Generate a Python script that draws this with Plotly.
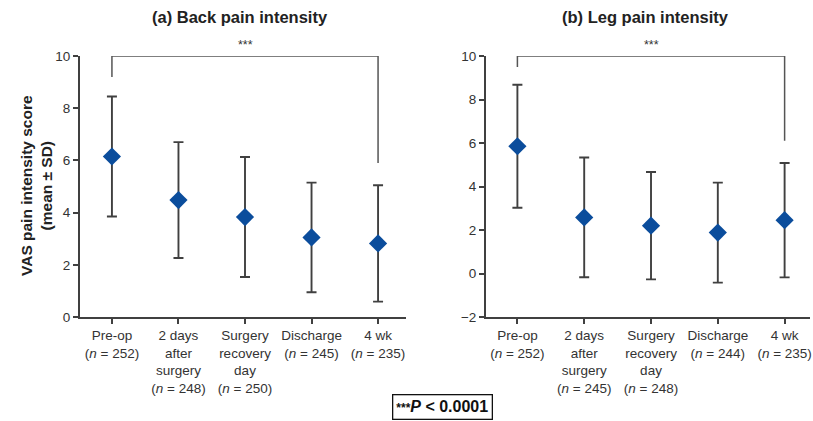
import plotly.graph_objects as go

categories_back = ["Pre-op<br>(<i>n</i> = 252)", "2 days<br>after<br>surgery<br>(<i>n</i> = 248)",
                   "Surgery<br>recovery<br>day<br>(<i>n</i> = 250)", "Discharge<br>(<i>n</i> = 245)",
                   "4 wk<br>(<i>n</i> = 235)"]
categories_leg = ["Pre-op<br>(<i>n</i> = 252)", "2 days<br>after<br>surgery<br>(<i>n</i> = 245)",
                  "Surgery<br>recovery<br>day<br>(<i>n</i> = 248)", "Discharge<br>(<i>n</i> = 244)",
                  "4 wk<br>(<i>n</i> = 235)"]
back_mean = [6.15, 4.48, 3.83, 3.05, 2.82]
back_sd = [2.30, 2.22, 2.30, 2.10, 2.23]
leg_mean = [5.85, 2.58, 2.20, 1.88, 2.45]
leg_sd = [2.83, 2.75, 2.47, 2.30, 2.63]

W, H = 813, 421
ML, MR, MT, MB = 80, 3, 56, 104
PW = W - ML - MR
PH = H - MT - MB

axis_color = "#404040"
font_fam = "Liberation Sans, Arial, sans-serif"
marker_color = "#0b4d9c"

fig = go.Figure()
idx = list(range(5))
fig.add_trace(go.Scatter(
    x=idx, y=back_mean, mode="markers", xaxis="x", yaxis="y",
    marker=dict(symbol="diamond", size=14, color=marker_color),
    error_y=dict(type="data", array=back_sd, visible=True, color=axis_color, thickness=1.9, width=5),
    showlegend=False))
fig.add_trace(go.Scatter(
    x=idx, y=leg_mean, mode="markers", xaxis="x2", yaxis="y2",
    marker=dict(symbol="diamond", size=14, color=marker_color),
    error_y=dict(type="data", array=leg_sd, visible=True, color=axis_color, thickness=1.9, width=5),
    showlegend=False))

common_x = dict(showline=True, linecolor=axis_color, linewidth=2, ticks="outside", ticklen=5,
                tickcolor=axis_color, tickwidth=1.6, showgrid=False, zeroline=False, automargin=False,
                tickmode="array", tickvals=idx,
                tickfont=dict(family=font_fam, size=13.5, color="#333333"))
common_y = dict(showline=True, linecolor=axis_color, linewidth=2, ticks="outside", ticklen=5,
                tickcolor=axis_color, tickwidth=1.6, showgrid=False, zeroline=False, automargin=False,
                tickfont=dict(family=font_fam, size=13.5, color="#333333"), dtick=2)

fig.update_layout(
    width=W, height=H, margin=dict(l=ML, r=MR, t=MT, b=MB, autoexpand=False),
    plot_bgcolor="white", paper_bgcolor="white",
    xaxis=dict(common_x, domain=[0, (406 - ML) / PW], range=[-0.48, 4.42], ticktext=categories_back, anchor="y"),
    yaxis=dict(common_y, domain=[0, 1], range=[0, 10], anchor="x"),
    xaxis2=dict(common_x, domain=[(486 - ML) / PW, 1.0], range=[-0.47, 4.38], ticktext=categories_leg, anchor="y2"),
    yaxis2=dict(common_y, domain=[0, 1], range=[-2, 10], anchor="x2"),
)

# significance brackets
bl = dict(color="#555555", width=1.5)
fig.add_shape(type="path", xref="x", yref="y", path="M 0 9.2 L 0 10 L 4 10 L 4 5.9", line=bl)
fig.add_shape(type="path", xref="x2", yref="y2", path="M 0 9.5 L 0 10 L 4 10 L 4 6.1", line=bl)
fig.add_annotation(x=2, y=10, xref="x", yref="y", text="***", showarrow=False, yanchor="bottom", yshift=2,
                   xanchor="center", font=dict(family=font_fam, size=12.5, color="#333333"))
fig.add_annotation(x=2, y=10, xref="x2", yref="y2", text="***", showarrow=False, yanchor="bottom", yshift=2,
                   xanchor="center", font=dict(family=font_fam, size=12.5, color="#333333"))

# panel titles
fig.add_annotation(x=(240 - ML) / PW, y=(H - MB - 17) / PH, xref="paper", yref="paper",
                   xanchor="center", yanchor="middle",
                   text="<b>(a) Back pain intensity</b>", showarrow=False,
                   font=dict(family=font_fam, size=16.5, color="#222222"))
fig.add_annotation(x=(645 - ML) / PW, y=(H - MB - 17) / PH, xref="paper", yref="paper",
                   xanchor="center", yanchor="middle",
                   text="<b>(b) Leg pain intensity</b>", showarrow=False,
                   font=dict(family=font_fam, size=16.5, color="#222222"))

# y-axis title
fig.add_annotation(x=(36 - ML) / PW, y=(H - MB - 186) / PH, xref="paper", yref="paper", textangle=-90,
                   xanchor="center", yanchor="middle",
                   text="<b>VAS pain intensity score<br>(mean ± SD)</b>", showarrow=False,
                   font=dict(family=font_fam, size=15.5, color="#222222"))

# footnote box
fig.add_annotation(x=(442 - ML) / PW, y=(H - MB - 407) / PH, xref="paper", yref="paper",
                   xanchor="center", yanchor="middle",
                   text="<b><span style='font-size:12px'>***</span><i>P</i> &lt; 0.0001</b>", showarrow=False,
                   bordercolor="#111111", borderwidth=1.3, borderpad=3, bgcolor="white",
                   font=dict(family=font_fam, size=16, color="#111111"))

fig.write_html("out.html", config={"displayModeBar": False},
               post_script="document.body.style.margin='0px';document.body.style.overflow='hidden';")
